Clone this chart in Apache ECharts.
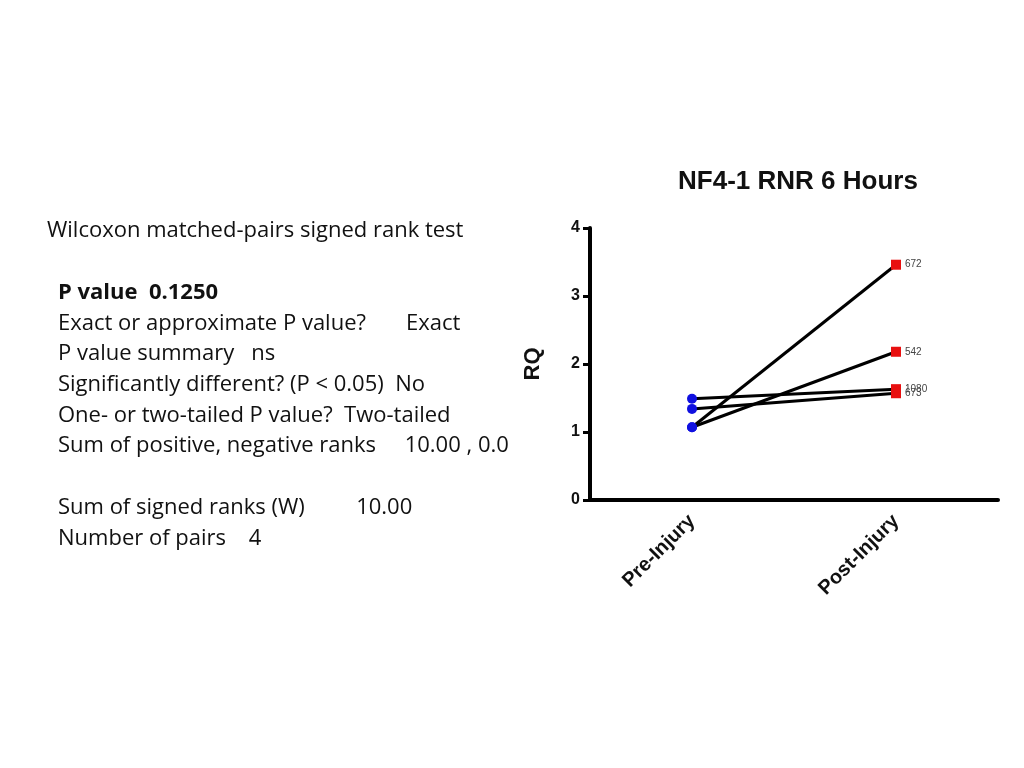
<!DOCTYPE html>
<html lang="en">
<head>
    <meta charset="UTF-8">
    <title>NF4-1 RNR 6 Hours</title>
    <script type="text/javascript" src="https://cdn.jsdelivr.net/npm/echarts@6/dist/echarts.min.js"></script>
    <style>
        html, body { margin: 0; padding: 0; background: #fff; }
        #chart { width: 1024px; height: 768px; }
    </style>
</head>
<body>
<div id="chart"></div>
<script type="text/javascript">

    // data
    var categories = ['Pre-Injury', 'Post-Injury'];
    var pairIds = ['672', '542', '1080', '673'];
    var preValues = [1.07, 1.07, 1.49, 1.34];
    var postValues = [3.46, 2.18, 1.63, 1.57];
    var yTicks = [0, 1, 2, 3, 4];

    var statLines = [
        'Wilcoxon matched-pairs signed rank test',
        '',
        'P value  0.1250',
        'Exact or approximate P value?       Exact',
        'P value summary   ns',
        'Significantly different? (P < 0.05)  No',
        'One- or two-tailed P value?  Two-tailed',
        'Sum of positive, negative ranks     10.00 , 0.0',
        '',
        'Sum of signed ranks (W)         10.00',
        'Number of pairs    4'
    ];

    var textFont = '"Open Sans", "Noto Sans", sans-serif';

    function buildText() {
        var els = [];
        var y = 229;
        for (var i = 0; i < statLines.length; i++) {
            if (statLines[i] !== '') {
                els.push({
                    type: 'text',
                    left: i === 0 ? 47 : 58,
                    top: y - 9,
                    style: {
                        text: statLines[i],
                        fill: '#111',
                        font: (i === 2 ? 'bold ' : '') + '22px ' + textFont
                    }
                });
            }
            y += (i === 0 ? 31 : 30.7);
        }
        return els;
    }

    var series = [];
    for (var i = 0; i < pairIds.length; i++) {
        series.push({
            type: 'line',
            name: pairIds[i],
            lineStyle: { color: '#000', width: 3 },
            symbolSize: 10,
            z: 3,
            labelLayout: { hideOverlap: false },
            data: [
                {
                    value: preValues[i],
                    symbol: 'circle',
                    itemStyle: { color: '#1010e0', borderWidth: 0 }
                },
                {
                    value: postValues[i],
                    symbol: 'rect',
                    itemStyle: { color: '#e81010', borderWidth: 0 },
                    label: {
                        show: true,
                        position: 'right',
                        distance: 4,
                        formatter: pairIds[i],
                        color: '#444',
                        fontSize: 10,
                        fontFamily: 'Liberation Sans, Arial, sans-serif'
                    }
                }
            ]
        });
    }

    var myChart = echarts.init(document.getElementById('chart'));
    var option = {
        animation: false,
        title: {
            text: 'NF4-1 RNR 6 Hours',
            left: 793,
            top: 164,
            textAlign: 'center',
            textStyle: {
                fontFamily: 'Liberation Sans, Arial, sans-serif',
                fontWeight: 'bold',
                fontSize: 26,
                color: '#111'
            }
        },
        graphic: buildText(),
        grid: {
            left: 590,
            right: 26,
            top: 228,
            bottom: 268
        },
        xAxis: {
            type: 'category',
            data: categories,
            boundaryGap: true,
            axisLine: { lineStyle: { color: '#000', width: 4 } },
            axisTick: { alignWithLabel: true, length: 8, lineStyle: { color: '#000', width: 3 } },
            axisLabel: {
                rotate: 45,
                margin: 18,
                color: '#111',
                fontWeight: 'bold',
                fontSize: 20,
                fontFamily: 'Liberation Sans, Arial, sans-serif'
            }
        },
        yAxis: {
            type: 'value',
            min: yTicks[0],
            max: yTicks[yTicks.length - 1],
            interval: 1,
            name: 'RQ',
            nameLocation: 'middle',
            nameGap: 46,
            nameRotate: 90,
            nameTextStyle: {
                fontWeight: 'bold',
                fontSize: 22,
                color: '#111',
                fontFamily: 'Liberation Sans, Arial, sans-serif'
            },
            splitLine: { show: false },
            axisLine: { show: true, lineStyle: { color: '#000', width: 4 } },
            axisTick: { show: true, length: 7, lineStyle: { color: '#000', width: 3 } },
            axisLabel: {
                margin: 10,
                color: '#111',
                fontWeight: 'bold',
                fontSize: 16,
                fontFamily: 'Liberation Sans, Arial, sans-serif'
            }
        },
        series: series
    };

    myChart.setOption(option);

</script>
</body>
</html>
